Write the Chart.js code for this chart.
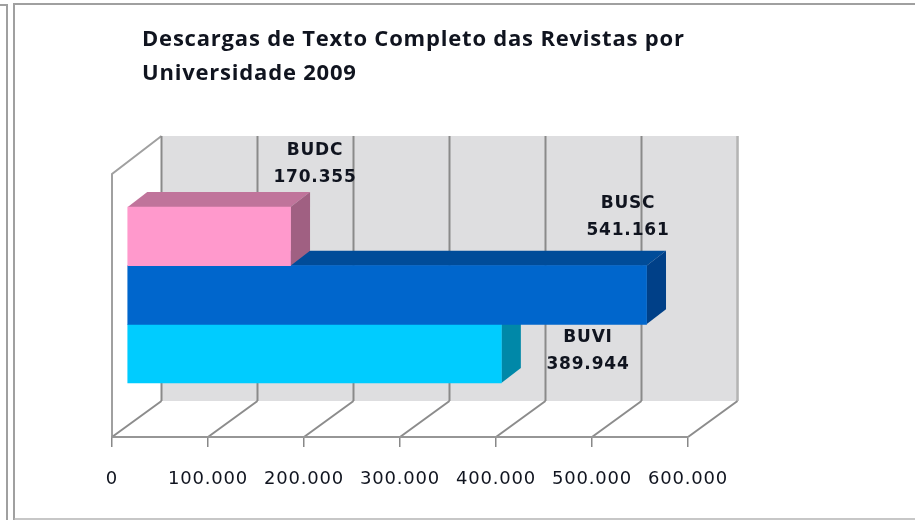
<!DOCTYPE html>
<html><head><meta charset="utf-8">
<style>html,body{margin:0;padding:0;background:#fff}canvas{display:block}</style>
<script src="https://cdn.jsdelivr.net/npm/chart.js@4"></script></head>
<body><div style="width:915px;height:520px"><canvas id="c" width="915" height="520"></canvas></div>
<script>
const titleLines = ['Descargas de Texto Completo das Revistas por', 'Universidade 2009'];
const categories = ['2009'];
const seriesNames = ['BUDC', 'BUSC', 'BUVI'];
const seriesValues = [170355, 541161, 389944];
const axisMax = 600000;
const axisStep = 100000;
const frontColors = ['#FF99CC', '#0066CC', '#00CCFF'];
const topColors = ['#C0749B', '#004C99', '#0099BF'];
const sideColors = ['#A06082', '#004088', '#0088A8'];
const labelAnchors = [[315, 151], [628, 204], [588, 338]];

const DEPTH_X = 49.5, DEPTH_Y = 36, BAR_DX = 15, BAR_DY = -10.5, SIDE_X = 19.5, SIDE_Y = 15;
const fmt = v => String(v).replace(/\B(?=(\d{3})+(?!\d))/g, '.');
const poly = (ctx, pts, fill) => {
  ctx.beginPath(); pts.forEach((p, i) => i ? ctx.lineTo(p[0], p[1]) : ctx.moveTo(p[0], p[1]));
  ctx.closePath(); ctx.fillStyle = fill; ctx.fill();
};
const line = (ctx, pts, color, w) => {
  ctx.beginPath(); pts.forEach((p, i) => i ? ctx.lineTo(p[0], p[1]) : ctx.moveTo(p[0], p[1]));
  ctx.strokeStyle = color; ctx.lineWidth = w; ctx.stroke();
};

const scene = {
  id: 'scene',
  afterLayout(chart) { chart.titleBlock.left = 142; },
  beforeDraw(chart) {
    const { ctx, chartArea: a, scales: { x } } = chart;
    ctx.letterSpacing = '0.8px';
    ctx.save();
    // window frame
    line(ctx, [[14, 520], [14, 4], [915, 4]], '#a0a0a0', 2);
    line(ctx, [[14, 519], [915, 519]], '#b4b4b4', 1.5);
    line(ctx, [[0, 5], [7, 5], [7, 520]], '#a0a0a0', 2);
    // back wall
    const b = a.bottom - DEPTH_Y, t = a.top - 38;
    poly(ctx, [[a.left + DEPTH_X, t], [a.right + DEPTH_X + 1, t], [a.right + DEPTH_X + 1, b], [a.left + DEPTH_X, b]], '#DEDEE0');
    // side wall outline
    line(ctx, [[a.left, a.bottom], [a.left, a.top], [a.left + DEPTH_X, t]], '#a0a0a0', 2);
    // grid on back wall and floor
    x.ticks.forEach((tk, i) => {
      const p = x.getPixelForValue(tk.value);
      const last = i === x.ticks.length - 1;
      line(ctx, [[p + DEPTH_X, t], [p + DEPTH_X, b]], last ? '#b4b4b4' : '#8a8a8a', last ? 2.5 : 2);
      line(ctx, [[p, a.bottom], [p + DEPTH_X, b]], '#8c8c8c', 2);
    });
    ctx.restore();
  },
  beforeDatasetDraw(chart, args) {
    const { ctx } = chart;
    const i = args.index, el = chart.getDatasetMeta(i).data[0];
    const top = el.y - el.height / 2, bot = el.y + el.height / 2, l = el.base, r = el.x;
    ctx.save();
    ctx.translate(BAR_DX, BAR_DY);
    poly(ctx, [[l, top], [l + SIDE_X, top - SIDE_Y], [r + SIDE_X, top - SIDE_Y], [r, top]], topColors[i]);
    poly(ctx, [[r, top], [r + SIDE_X, top - SIDE_Y], [r + SIDE_X, bot - SIDE_Y], [r, bot]], sideColors[i]);
  },
  afterDatasetDraw(chart) { chart.ctx.restore(); },
  afterDraw(chart) {
    const { ctx } = chart;
    ctx.save();
    ctx.font = 'bold 17px "DejaVu Sans"';
    ctx.fillStyle = '#10141f';
    ctx.textAlign = 'center'; ctx.textBaseline = 'middle';
    seriesNames.forEach((n, i) => {
      const [cx, cy] = labelAnchors[i];
      ctx.fillText(n, cx, cy);
      ctx.fillText(fmt(seriesValues[i]), cx, cy + 27);
    });
    ctx.restore();
  }
};

new Chart(document.getElementById('c'), {
  type: 'bar',
  data: {
    labels: categories,
    datasets: seriesNames.map((n, i) => ({
      label: n, data: [seriesValues[i]], backgroundColor: frontColors[i],
      barThickness: 58.67, clip: false, borderWidth: 0
    }))
  },
  options: {
    indexAxis: 'y', responsive: false, animation: false,
    layout: { padding: { left: 112, right: 227, top: 0, bottom: 0 } },
    plugins: {
      legend: { display: false }, tooltip: { enabled: false },
      title: {
        display: true, text: titleLines, align: 'start', color: '#10141f',
        font: { family: '"Open Sans"', weight: 'bold', size: 22, lineHeight: '34px' },
        padding: { top: 23, bottom: 83 }
      }
    },
    scales: {
      x: {
        min: 0, max: axisMax,
        afterFit(s) { s.height = 83; },
        border: { display: true, color: '#969696', width: 2 },
        grid: { drawOnChartArea: false, drawTicks: true, tickLength: 10, color: '#888888', lineWidth: 1.5 },
        ticks: {
          stepSize: axisStep, autoSkip: false, maxRotation: 0, padding: 22,
          color: '#10141f', font: { family: '"DejaVu Sans"', size: 18 },
          callback: v => fmt(v)
        }
      },
      y: { display: false }
    }
  },
  plugins: [scene]
});
</script></body></html>
